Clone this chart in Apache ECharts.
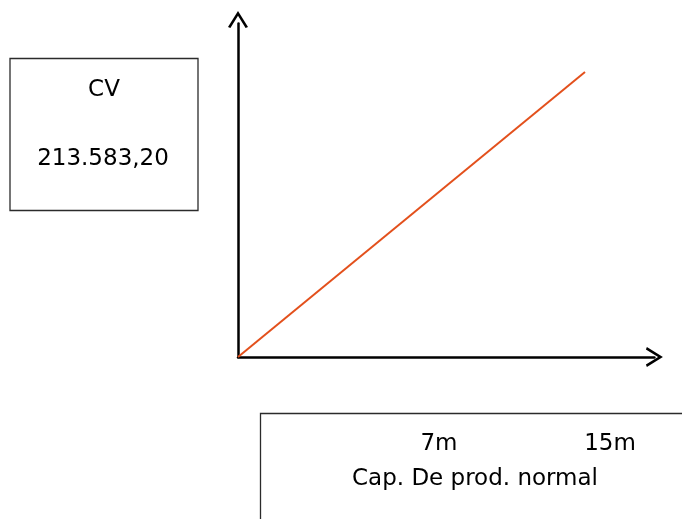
<!DOCTYPE html>
<html>
<head>
<meta charset="utf-8">
<title>CV</title>
<script src="https://cdn.jsdelivr.net/npm/echarts@6/dist/echarts.min.js"></script>
<style>
  html, body { margin: 0; padding: 0; background: #fff; }
  #chart { width: 682px; height: 519px; }
</style>
</head>
<body>
<div id="chart"></div>
<script>
// capacity (x) vs variable cost (y)
const capacity = [0, 15]
const cvValues = [0, 213583.2]
const cvTitle = 'CV'
const cvLabel = '213.583,20'
const capLabels = ['7m', '15m']
const capTitle = 'Cap. De prod. normal'

const chart = echarts.init(document.getElementById('chart'))
const font = '23px "DejaVu Sans"'
// open chevron arrow, tip pointing up
const chevron = 'path://M0,16 L10,0 L20,16 L17.6,17 L10,4.8 L2.4,17 Z'

const axisBase = {
  type: 'value',
  min: 0,
  axisLabel: { show: false },
  axisTick: { show: false },
  splitLine: { show: false },
}

const boxStyle = { fill: 'none', stroke: '#2b2b2b', lineWidth: 1.3 }
const textStyle = (text) => ({ text, font, fill: '#000', align: 'center', verticalAlign: 'middle' })

chart.setOption({
  animation: false,
  backgroundColor: '#fff',
  grid: { left: 238, right: 27.6, top: 23.4, bottom: 162 },
  xAxis: {
    ...axisBase,
    max: 18,
    axisLine: {
      show: true,
      symbol: ['none', chevron],
      symbolSize: [20, 17],
      lineStyle: { color: '#000', width: 2.5 }
    }
  },
  yAxis: {
    ...axisBase,
    max: 250000,
    axisLine: {
      show: true,
      symbol: ['none', chevron],
      symbolSize: [24, 17],
      symbolOffset: [0, 4],
      lineStyle: { color: '#000', width: 2.5 }
    }
  },
  series: [{
    type: 'line',
    data: capacity.map((c, i) => [c, cvValues[i]]),
    showSymbol: false,
    lineStyle: { color: '#E3501C', width: 2 },
    z: 1
  }],
  graphic: [
    { type: 'rect', shape: { x: 10, y: 58.5, width: 188, height: 152 }, style: boxStyle },
    { type: 'text', x: 104, y: 90, style: textStyle(cvTitle) },
    { type: 'text', x: 103, y: 159, style: textStyle(cvLabel) },
    { type: 'rect', shape: { x: 260.5, y: 413.5, width: 430, height: 120 }, style: boxStyle },
    ...capLabels.map((t, i) => ({
      type: 'text', x: [439, 610][i], y: 444, style: textStyle(t)
    })),
    { type: 'text', x: 475, y: 479, style: textStyle(capTitle) }
  ]
})
</script>
</body>
</html>
